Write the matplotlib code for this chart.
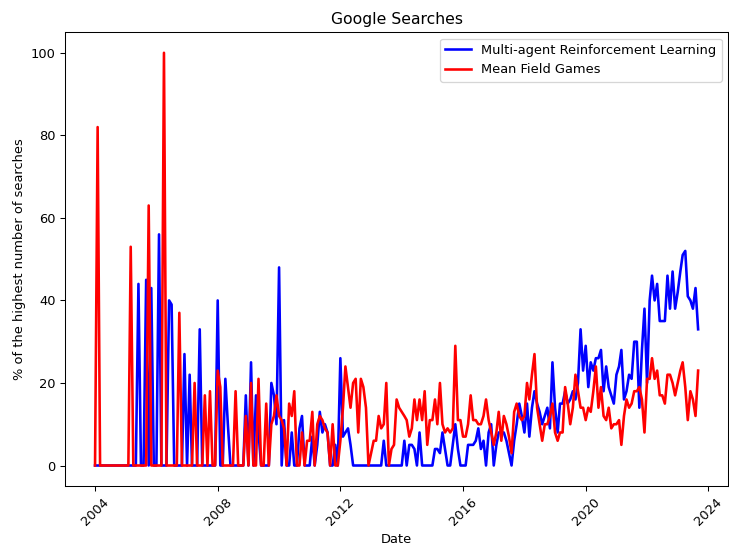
import numpy as np
import pandas as pd
import matplotlib
matplotlib.use('Agg')
import matplotlib.pyplot as plt
import matplotlib.dates as mdates

# monthly google trends values, 2004-01 .. 2023-09
marl = [
    0, 0, 0, 0, 0, 0, 0, 0, 0, 0, 0, 0,            # 2004
    0, 0, 0, 0, 0, 44, 0, 0, 45, 0, 43, 0,         # 2005
    0, 56, 0, 0, 0, 40, 39, 0, 0, 0, 0, 27,        # 2006
    0, 22, 0, 0, 0, 33, 0, 0, 0, 0, 0, 0,          # 2007
    40, 0, 0, 21, 10, 0, 0, 0, 0, 0, 0, 17,        # 2008
    0, 25, 0, 17, 8, 0, 0, 0, 0, 20, 17, 10,       # 2009
    48, 0, 11, 0, 0, 8, 0, 0, 9, 12, 0, 0,         # 2010
    0, 7, 0, 5, 13, 8, 10, 8, 0, 0, 5, 0,          # 2011
    26, 7, 8, 9, 5, 0, 0, 0, 0, 0, 0, 0,           # 2012
    0, 0, 0, 0, 0, 6, 0, 0, 0, 0, 0, 0,            # 2013
    0, 6, 0, 5, 5, 4, 0, 8, 0, 0, 0, 0,            # 2014
    0, 4, 4, 3, 8, 4, 0, 0, 5, 10, 4, 0,           # 2015
    0, 0, 5, 5, 5, 6, 9, 4, 6, 0, 8, 10,           # 2016
    0, 5, 8, 8, 8, 6, 3, 0, 6, 10, 15, 12,         # 2017
    8, 15, 7, 14, 18, 15, 13, 10, 12, 14, 9, 25,   # 2018
    14, 8, 15, 15, 18, 15, 16, 18, 16, 20, 33, 23, # 2019
    29, 19, 25, 23, 26, 26, 28, 18, 24, 19, 17, 15,  # 2020
    22, 24, 28, 16, 18, 22, 21, 30, 30, 14, 28, 38,  # 2021
    20, 40, 46, 40, 44, 35, 35, 35, 46, 38, 47, 38,  # 2022
    42, 47, 51, 52, 41, 40, 38, 43, 33,              # 2023
]
mfg = [
    0, 82, 0, 0, 0, 0, 0, 0, 0, 0, 0, 0,           # 2004
    0, 0, 53, 0, 0, 0, 0, 0, 0, 63, 0, 0,          # 2005
    0, 0, 0, 100, 0, 0, 0, 0, 0, 37, 0, 0,         # 2006
    0, 0, 0, 20, 0, 0, 0, 17, 0, 18, 0, 0,         # 2007
    23, 19, 0, 0, 0, 0, 0, 18, 0, 0, 0, 12,        # 2008
    0, 20, 0, 0, 21, 0, 0, 15, 0, 10, 12, 17,      # 2009
    12, 11, 9, 0, 15, 12, 18, 0, 0, 8, 0, 6,       # 2010
    6, 13, 0, 10, 12, 11, 9, 8, 0, 10, 0, 0,       # 2011
    6, 14, 24, 19, 14, 20, 21, 8, 21, 19, 14, 0,   # 2012
    3, 6, 6, 12, 9, 10, 20, 0, 4, 5, 16, 14,       # 2013
    13, 12, 11, 7, 9, 16, 11, 16, 11, 18, 5, 11,   # 2014
    11, 16, 10, 20, 10, 8, 9, 8, 9, 29, 11, 11,    # 2015
    7, 7, 10, 17, 11, 11, 10, 10, 12, 16, 11, 8,   # 2016
    5, 8, 13, 6, 12, 10, 7, 3, 13, 15, 12, 11,     # 2017
    12, 20, 16, 22, 27, 14, 10, 6, 10, 10, 12, 15, # 2018
    8, 6, 8, 8, 19, 15, 10, 14, 22, 18, 14, 14,    # 2019
    11, 14, 13, 18, 24, 14, 19, 12, 11, 14, 9, 10, # 2020
    10, 11, 5, 12, 16, 14, 15, 18, 18, 19, 16, 8,  # 2021
    21, 21, 26, 21, 23, 17, 17, 15, 22, 22, 20, 17,  # 2022
    20, 23, 25, 19, 11, 18, 16, 12, 23,              # 2023
]
dates = pd.date_range('2004-01-01', periods=len(marl), freq='MS')

fig, ax = plt.subplots(figsize=(729 / 93.5, 545 / 93.5), dpi=93.5)
fig.subplots_adjust(left=0.089, right=0.999, top=0.941, bottom=0.108)

ax.plot(dates, marl, color='blue', lw=2, label='Multi-agent Reinforcement Learning')
ax.plot(dates, mfg, color='red', lw=2, label='Mean Field Games')

ax.xaxis.set_major_locator(mdates.YearLocator(4))
ax.xaxis.set_major_formatter(mdates.DateFormatter('%Y'))
plt.setp(ax.get_xticklabels(), rotation=45)

ax.set_title('Google Searches')
ax.set_xlabel('Date')
ax.set_ylabel('% of the highest number of searches')
ax.legend(loc='upper right')

fig.savefig('out.png', dpi=93.5)
